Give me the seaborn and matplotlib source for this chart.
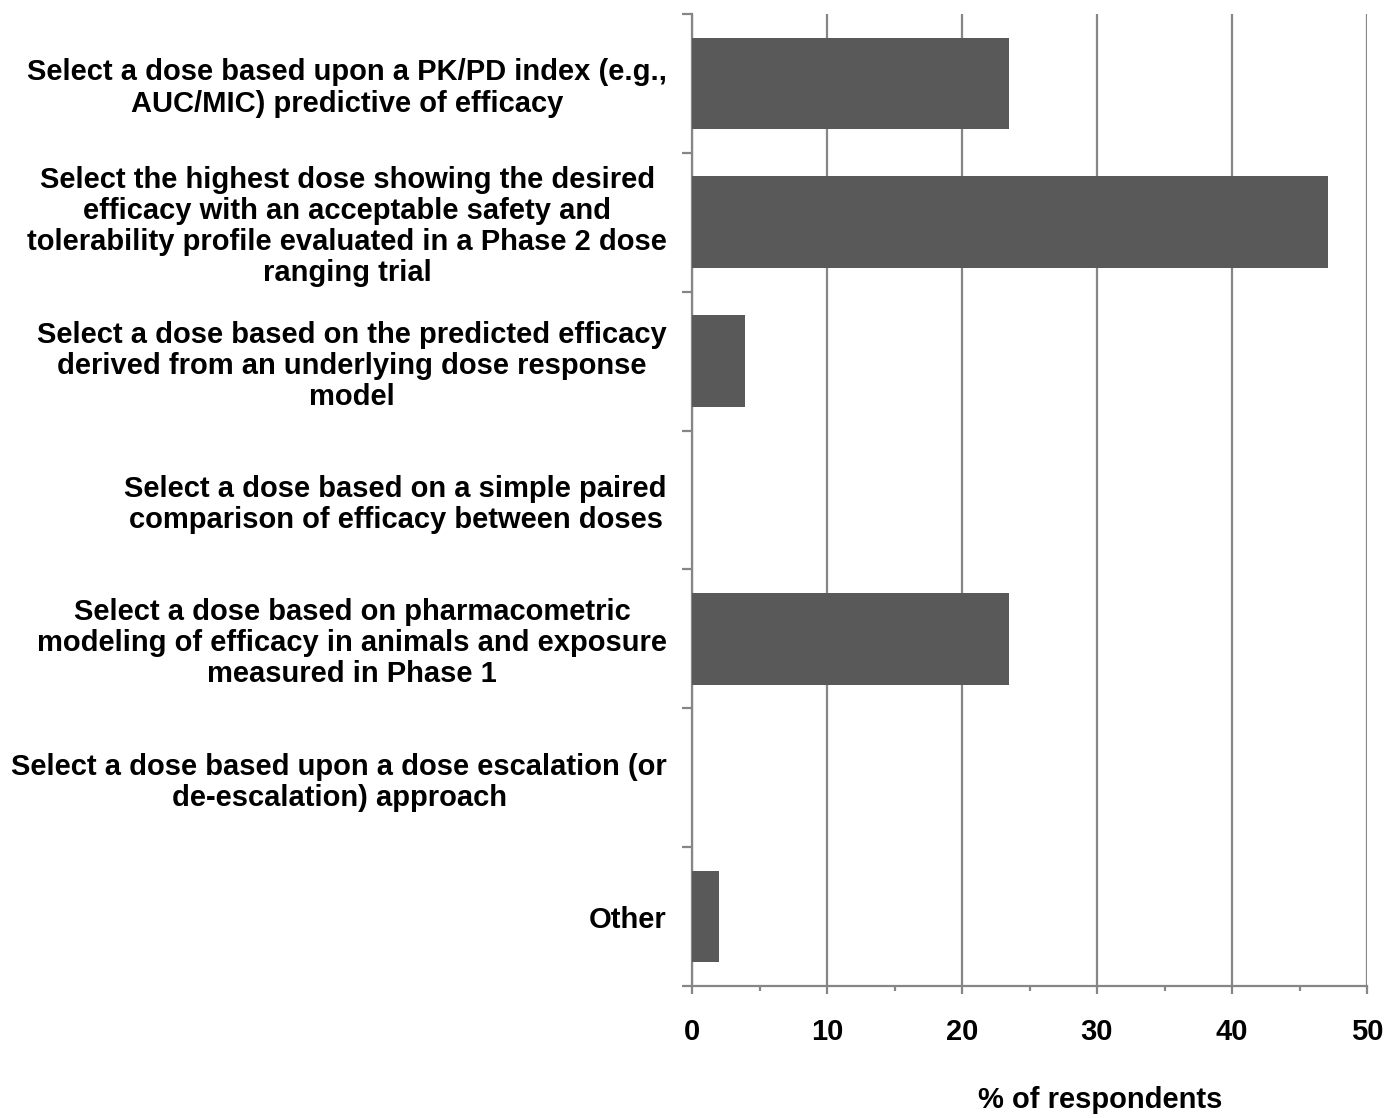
import matplotlib
matplotlib.use("Agg")
import matplotlib.pyplot as plt
import seaborn as sns
import pandas as pd
from matplotlib.ticker import MultipleLocator

categories = [
    "Select a dose based upon a PK/PD index (e.g.,\nAUC/MIC) predictive of efficacy",
    "Select the highest dose showing the desired\nefficacy with an acceptable safety and\ntolerability profile evaluated in a Phase 2 dose\nranging trial",
    "Select a dose based on the predicted efficacy\nderived from an underlying dose response\nmodel",
    "Select a dose based on a simple paired\ncomparison of efficacy between doses",
    "Select a dose based on pharmacometric\nmodeling of efficacy in animals and exposure\nmeasured in Phase 1",
    "Select a dose based upon a dose escalation (or\nde-escalation) approach",
    "Other",
]
percent = [23.5, 47.1, 3.9, 0.0, 23.5, 0.0, 2.0]
x_ticks = [0, 10, 20, 30, 40, 50]

df = pd.DataFrame({"category": categories, "percent": percent})

sns.set_theme(style="white")
plt.rcParams["font.family"] = ["Liberation Sans", "DejaVu Sans"]
plt.rcParams["font.weight"] = "bold"
plt.rcParams["text.color"] = "black"

fig = plt.figure(figsize=(13.87, 11.18), dpi=100)
ax = fig.add_axes([692 / 1387, 132 / 1118, 675 / 1387, 972 / 1118])

grid_color = "#868686"
sns.barplot(data=df, y="category", x="percent", orient="h", color="#595959",
            saturation=1, width=0.66, edgecolor="none", ax=ax, zorder=3)

ax.set_xlim(0, 50)
ax.set_ylim(len(categories) - 0.5, -0.5)
ax.set_xticks(x_ticks)
ax.set_xticklabels([str(t) for t in x_ticks], fontsize=21, fontweight="bold")
ax.xaxis.set_minor_locator(MultipleLocator(5))
ax.grid(axis="x", color=grid_color, linewidth=1.6, zorder=0)
ax.set_axisbelow(True)

# category separators as ticks on the value axis
ax.set_yticks([i - 0.5 for i in range(len(categories) + 1)], minor=True)
ax.set_yticks(range(len(categories)))
ax.set_yticklabels(categories, fontsize=21, fontweight="bold", ha="right",
                   multialignment="center", linespacing=1.14)
ax.tick_params(axis="y", which="major", length=0, pad=18, labelcolor="black")
ax.tick_params(axis="y", which="minor", length=7, width=1.6, color=grid_color, left=True)
ax.tick_params(axis="x", which="major", length=6, width=1.6, color=grid_color,
               bottom=True, pad=17, labelcolor="black")
ax.tick_params(axis="x", which="minor", length=3.6, width=1.6, color=grid_color, bottom=True)

for side in ["top", "right"]:
    ax.spines[side].set_visible(False)
for side in ["left", "bottom"]:
    ax.spines[side].set_color(grid_color)
    ax.spines[side].set_linewidth(1.6)

ax.set_ylabel("")
ax.set_xlabel("% of respondents", fontsize=21, fontweight="bold", color="black")
ax.xaxis.set_label_coords(0.604, -0.103)

fig.savefig("out.png", dpi=100)
